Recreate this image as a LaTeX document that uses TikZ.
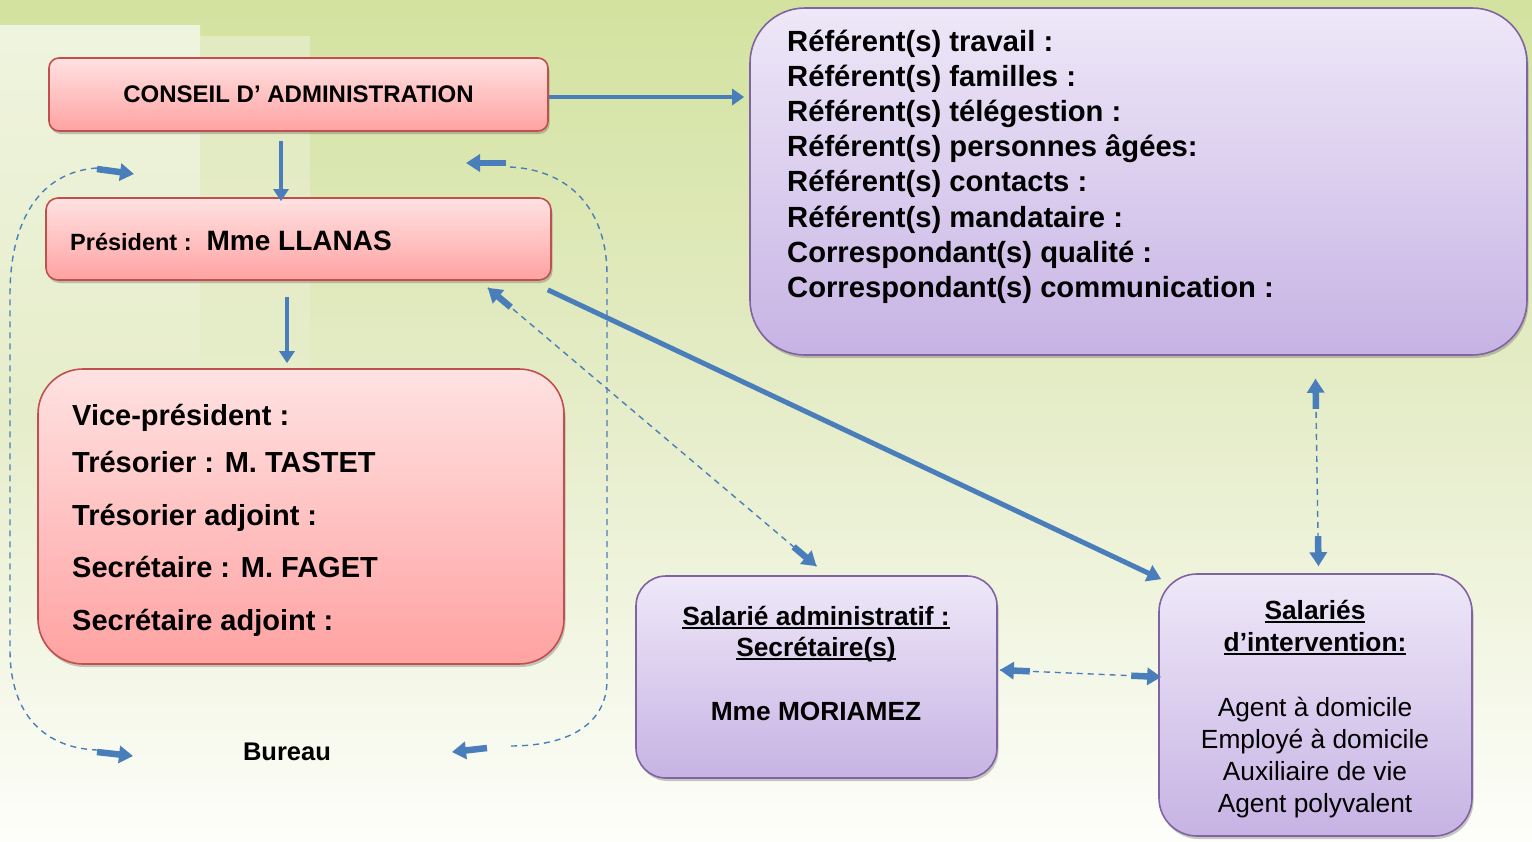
\documentclass[tikz,border=0pt]{standalone}
\usepackage{fontspec}
\setmainfont{Liberation Sans}
\usetikzlibrary{arrows.meta,shadows,calc}
\definecolor{arr}{HTML}{4A7EBB}
\definecolor{redtop}{HTML}{FFE2E2}
\definecolor{redbot}{HTML}{FFA2A2}
\definecolor{redline}{HTML}{C0504D}
\definecolor{purtop}{HTML}{EEE8F8}
\definecolor{purbot}{HTML}{C7B3E4}
\definecolor{purline}{HTML}{8064A2}
\definecolor{bgtop}{HTML}{D3E29F}
\definecolor{bgmid}{HTML}{E6EDCA}
\definecolor{bgbot}{HTML}{FDFEFA}
\definecolor{panelA}{HTML}{EFF4DE}
\definecolor{panelB}{HTML}{E2EAC2}
\newcommand\fsz[2]{\fontsize{#1}{#2}\selectfont}
\newcommand\ulin[1]{\setbox0\hbox{#1}\rlap{\rule[-3.5pt]{\wd0}{1.6pt}}\box0}
\begin{document}
\begin{tikzpicture}[x=1pt,y=-1pt,
  box/.style={draw, line width=1.6pt, inner sep=0pt,
    drop shadow={shadow xshift=1.5pt, shadow yshift=-3pt, opacity=0.3, fill=black!70}},
  redbox/.style={box, draw=redline, top color=redtop, bottom color=redbot},
  purbox/.style={box, draw=purline, top color=purtop, bottom color=purbot},
  solidarr/.style={draw=arr, line width=4pt, -{Triangle[width=15pt,length=12pt]}},
  dline/.style={draw=arr, line width=1.4pt, dash pattern=on 6pt off 5pt},
  blk/.style={draw=arr, line width=6.5pt, -{Triangle[width=17pt,length=14pt]}},
  txt/.style={inner sep=0pt, font=\bfseries},
  rtxt/.style={inner sep=0pt},
]
\useasboundingbox (0,0) rectangle (1532,841);
% background
\fill[top color=bgtop, bottom color=bgbot, middle color=bgmid] (0,0) rectangle (1532,841);
\fill[top color=panelB, bottom color=bgmid] (200,36) rectangle (310,421);
\fill[top color=panelA, bottom color=bgmid] (0,25) rectangle (200,421);

% boxes
\node[redbox, rounded corners=10pt, minimum width=499pt, minimum height=73pt] (ca) at (298.5,94.5)
  {\fsz{24}{28}\bfseries CONSEIL D’ ADMINISTRATION};
\node[redbox, rounded corners=12pt, minimum width=505pt, minimum height=82pt] (pres) at (298.5,239) {};
\node[txt, anchor=base west] (prestxt) at (70,250)
  {\fsz{23.5}{28}Président :\hspace{15pt}\fsz{28}{32}Mme LLANAS};
\node[redbox, rounded corners=45pt, minimum width=526pt, minimum height=295pt] (vice) at (301,516.5) {};
\node[txt, anchor=base west] (v1) at (72,425) {\fsz{29}{34}Vice-président :};
\node[txt, anchor=base west] (v2) at (72,472) {\fsz{29}{34}Trésorier : M. TASTET};
\node[txt, anchor=base west] (v3) at (72,525) {\fsz{29}{34}Trésorier adjoint :};
\node[txt, anchor=base west] (v4) at (72,577) {\fsz{29}{34}Secrétaire : M. FAGET};
\node[txt, anchor=base west] (v5) at (72,630) {\fsz{29}{34}Secrétaire adjoint :};

\node[purbox, rounded corners=55pt, minimum width=777pt, minimum height=347pt] (ref) at (1138.5,181.5) {};
\foreach \t [count=\i from 0] in {Référent(s) travail :, Référent(s) familles :, Référent(s) télégestion :,
  Référent(s) personnes âgées:, Référent(s) contacts :, Référent(s) mandataire :,
  Correspondant(s) qualité :, Correspondant(s) communication :}
  \node[txt, anchor=base west] (r\i) at (787,{51.5+35.1*\i}) {\fsz{29.2}{34}\t};

\node[purbox, rounded corners=30pt, minimum width=361pt, minimum height=202pt] (sadm) at (816.5,677) {};
\node[txt, anchor=base] (sa1) at (816,625) {\fsz{26.3}{31}\ulin{Salarié administratif :}};
\node[txt, anchor=base] (sa2) at (816,656) {\fsz{26.3}{31}\ulin{Secrétaire(s)}};
\node[txt, anchor=base] (sa3) at (816,720) {\fsz{26.3}{31}Mme MORIAMEZ};

\node[purbox, rounded corners=38pt, minimum width=313pt, minimum height=262pt] (sint) at (1315.5,705) {};
\node[txt, anchor=base] (si1) at (1315,619) {\fsz{26.3}{31}\ulin{Salariés}};
\node[txt, anchor=base] (si2) at (1315,651) {\fsz{26.3}{31}\ulin{d’intervention:}};
\node[rtxt, anchor=base] (si3) at (1315,716) {\fsz{26.3}{31}Agent à domicile};
\node[rtxt, anchor=base] (si4) at (1315,748) {\fsz{26.3}{31}Employé à domicile};
\node[rtxt, anchor=base] (si5) at (1315,780) {\fsz{26.3}{31}Auxiliaire de vie};
\node[rtxt, anchor=base] (si6) at (1315,812) {\fsz{26.3}{31}Agent polyvalent};

\node[txt] (bureau) at (287,752) {\fsz{25.5}{30}Bureau};

% solid connectors
\coordinate (caR) at ($(ca.east)+(0,2.5)$);
\draw[solidarr, line width=4.5pt, -{Triangle[width=16pt,length=12pt]}, shorten >=5pt] (caR) -- (caR -| ref.west);
\draw[solidarr, line width=3.5pt, shorten <=9pt, shorten >=-4pt] (ca.south -| 281,0) -- (pres.north -| 281,0);
\draw[solidarr, line width=3.5pt, shorten <=16pt, shorten >=5pt] (pres.south -| 287,0) -- (vice.north -| 287,0);
\draw[solidarr, line width=5pt, -{Triangle[width=17pt,length=14pt]}]
  ($(pres.south east)+(-4,9)$) -- ($(sint.north west)+(3,6)$);

% dashed connectors with block heads
\coordinate (pa1) at ($(pres.south east)+(-64,7)$);
\coordinate (pa2) at ($(sadm.north)+(0,-9)$);
\draw[dline] (pa1) -- (pa2);
\draw[blk] ($(pa1)!30pt!(pa2)$) -- (pa1);
\draw[blk] ($(pa2)!30pt!(pa1)$) -- (pa2);

\coordinate (ri1) at ($(sint.north |- ref.south)+(0,23)$);
\coordinate (ri2) at ($(sint.north)+(3,-7)$);
\draw[dline] (ri1) -- (ri2);
\draw[blk] ($(ri1)!30pt!(ri2)$) -- (ri1);
\draw[blk] ($(ri2)!30pt!(ri1)$) -- (ri2);

\coordinate (ss1) at ($(sadm.east)+(2,-7)$);
\coordinate (ss2) at ($(sint.west |- sadm.east)+(3,0)$);
\draw[dline] (ss1) -- (ss2);
\draw[blk] ($(ss1)!30pt!(ss2)$) -- (ss1);
\draw[blk] ($(ss2)!30pt!(ss1)$) -- (ss2);

% Bureau loops
\coordinate (lt) at (134,174);
\coordinate (lb) at (133,756);
\draw[dline] (97,168) .. controls (40,172) and (10,220) .. (10,295) -- (10,650)
  .. controls (10,715) and (45,748) .. (97,750);
\draw[blk] (97,169) -- (lt);
\draw[blk] (97,752) -- (lb);

\coordinate (rt) at (466,163);
\coordinate (rb) at (452,752);
\draw[dline] (510,167) .. controls (572,170) and (607,212) .. (607,275) -- (607,680)
  .. controls (607,722) and (572,746) .. (510,746);
\draw[blk] (506,163) -- (rt);
\draw[blk] (487,748) -- (rb);
\end{tikzpicture}
\end{document}
